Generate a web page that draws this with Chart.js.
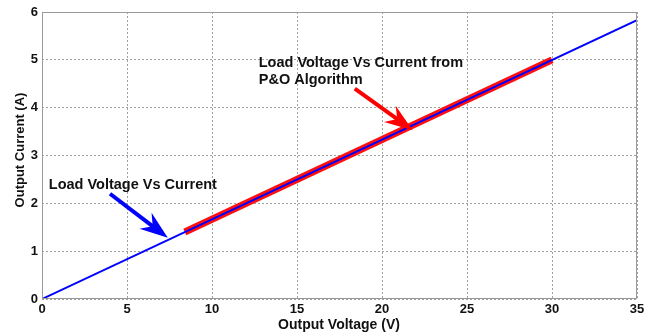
<!DOCTYPE html>
<html>
<head>
<meta charset="utf-8">
<script src="https://cdn.jsdelivr.net/npm/chart.js@4/dist/chart.umd.min.js"></script>
<style>
  html, body { margin: 0; padding: 0; background: #fff; }
  #wrap { width: 659px; height: 336px; position: relative; }
</style>
</head>
<body>
<div id="wrap"><canvas id="c" width="659" height="336"></canvas></div>
<script>
// Load line: output voltage (V) vs output current (A)
const loadVoltage = [0, 35];
const loadCurrent = [0, 5.83];

// Operating points traced by the P&O algorithm
const poVoltage = [8.4, 30];
const poCurrent = [1.4, 5.0];

const xTicks = [0, 5, 10, 15, 20, 25, 30, 35];
const yTicks = [0, 1, 2, 3, 4, 5, 6];

// Callout labels and arrows (in data units)
const blueLabel = { text: ['Load Voltage Vs Current'], x: 0.4, y: 2.38 };
const blueArrow = { from: [4.0, 2.2], to: [7.4, 1.28] };
const redLabel = { text: ['Load Voltage Vs Current from', 'P&O Algorithm'], x: 12.75, y: 4.94 };
const redArrow = { from: [18.4, 4.4], to: [21.8, 3.53] };

const FAMILY = '"Liberation Sans", Arial, sans-serif';
const CALLOUT_FONT = 'bold 14.5px ' + FAMILY;

function toPoints(xs, ys) { return xs.map((v, i) => ({ x: v, y: ys[i] })); }

const annotate = {
  id: 'annotate',
  afterDraw(chart) {
    const { ctx, scales: { x, y }, chartArea: a } = chart;
    ctx.save();
    // frame
    ctx.strokeStyle = '#9a9a9a';
    ctx.lineWidth = 1;
    ctx.strokeRect(a.left + 0.5, a.top + 0.5, a.right - a.left - 1, a.bottom - a.top - 1);

    // axis titles
    ctx.fillStyle = '#111';
    ctx.textAlign = 'center';
    ctx.textBaseline = 'middle';
    ctx.font = 'bold 14px ' + FAMILY;
    ctx.fillText('Output Voltage (V)', 339, 325);
    ctx.save();
    ctx.font = 'bold 13px ' + FAMILY;
    ctx.translate(20, 150);
    ctx.rotate(-Math.PI / 2);
    ctx.fillText('Output Current (A)', 0, 0);
    ctx.restore();

    // callout text
    ctx.font = CALLOUT_FONT;
    ctx.textAlign = 'left';
    [blueLabel, redLabel].forEach(l => {
      const px = x.getPixelForValue(l.x);
      const py = y.getPixelForValue(l.y);
      l.text.forEach((t, i) => ctx.fillText(t, px, py + i * 17));
    });

    // arrows
    function arrow(ar, color) {
      const x0 = x.getPixelForValue(ar.from[0]), y0 = y.getPixelForValue(ar.from[1]);
      const x1 = x.getPixelForValue(ar.to[0]), y1 = y.getPixelForValue(ar.to[1]);
      const ang = Math.atan2(y1 - y0, x1 - x0);
      const hl = 24, hw = 10;
      const bx = x1 - hl * Math.cos(ang), by = y1 - hl * Math.sin(ang);
      ctx.strokeStyle = color;
      ctx.fillStyle = color;
      ctx.lineWidth = 4;
      ctx.lineCap = 'butt';
      ctx.beginPath();
      ctx.moveTo(x0, y0);
      ctx.lineTo(bx + 6 * Math.cos(ang), by + 6 * Math.sin(ang));
      ctx.stroke();
      ctx.beginPath();
      ctx.moveTo(x1, y1);
      ctx.lineTo(bx - hw * Math.sin(ang) - 4 * Math.cos(ang), by + hw * Math.cos(ang) - 4 * Math.sin(ang));
      ctx.lineTo(bx + 5 * Math.cos(ang), by + 5 * Math.sin(ang));
      ctx.lineTo(bx + hw * Math.sin(ang) - 4 * Math.cos(ang), by - hw * Math.cos(ang) - 4 * Math.sin(ang));
      ctx.closePath();
      ctx.fill();
    }
    arrow(blueArrow, '#0000ff');
    arrow(redArrow, '#ff0000');
    ctx.restore();
  }
};

new Chart(document.getElementById('c'), {
  type: 'scatter',
  data: {
    datasets: [
      {
        label: 'Load Voltage Vs Current',
        data: toPoints(loadVoltage, loadCurrent),
        showLine: true,
        borderColor: '#0000ff',
        borderWidth: 2,
        pointRadius: 0,
        order: 0
      },
      {
        label: 'Load Voltage Vs Current from P&O Algorithm',
        data: toPoints(poVoltage, poCurrent),
        showLine: true,
        borderColor: '#ff1010',
        borderWidth: 7,
        pointRadius: 0,
        order: 1
      }
    ]
  },
  options: {
    responsive: false,
    animation: false,
    layout: { padding: { left: 0, top: 12, right: 22, bottom: 0 } },
    plugins: { legend: { display: false }, tooltip: { enabled: false } },
    scales: {
      x: {
        type: 'linear',
        min: 0, max: 35,
        afterBuildTicks: s => { s.ticks = xTicks.map(v => ({ value: v })); },
        afterFit: s => { s.height = 37; },
        ticks: { color: '#111', font: { family: FAMILY, size: 13, weight: 'bold' }, padding: 3, maxRotation: 0 },
        grid: { color: '#a0a0a0', lineWidth: 1, drawTicks: false },
        border: { display: false, dash: [2, 2] }
      },
      y: {
        type: 'linear',
        min: 0, max: 6,
        afterBuildTicks: s => { s.ticks = yTicks.map(v => ({ value: v })); },
        afterFit: s => { s.width = 42; },
        ticks: { color: '#111', font: { family: FAMILY, size: 13, weight: 'bold' }, padding: 4 },
        grid: { color: '#a0a0a0', lineWidth: 1, drawTicks: false },
        border: { display: false, dash: [2, 2] }
      }
    }
  },
  plugins: [annotate]
});
</script>
</body>
</html>
